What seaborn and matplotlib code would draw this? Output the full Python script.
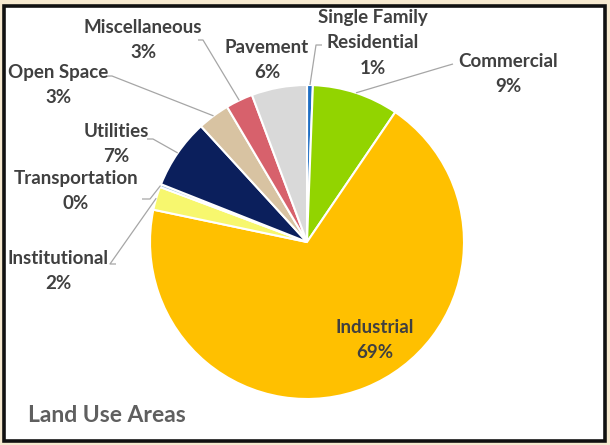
import numpy as np
import matplotlib
matplotlib.use("Agg")
import matplotlib.pyplot as plt
import seaborn as sns
from matplotlib.patches import Rectangle

# chart data (clockwise from 12 o'clock)
categories = ["Single Family\nResidential", "Commercial", "Industrial", "Institutional",
              "Transportation", "Utilities", "Open Space", "Miscellaneous", "Pavement"]
shares = [0.6, 8.9, 68.8, 2.4, 0.3, 7.2, 3.3, 2.8, 5.7]
colors = ["#1f6fc4", "#92d400", "#ffc000", "#f7f76e", "#9dc3e6",
          "#0b1f5c", "#d8c3a2", "#d7616c", "#d9d9d9"]

# layout (pixels in the 610x445 canvas)
W, H = 610, 445
CX, CY, R = 307, 242, 157
label_xy = [(373, 43), (508, 74), (375, 340), (58, 271), (76, 191),
            (116, 144), (58, 85), (143, 40), (267, 60)]
# leader line: (elbow, end next to label) or None
leaders = [((316, 45), (322, 45)), ((446, 66), (453, 64)), None,
           ((110, 264), (116, 264)), ((150, 199), (142, 199)),
           ((153, 139), (147, 139)), ((112, 76), (106, 76)),
           ((203, 40), (198, 40)), None]

sns.set_theme(style="white")
plt.rcParams["font.family"] = ["Lato", "DejaVu Sans"]


def px(x, y):
    return ((x - CX) / R, (CY - y) / R)


fig = plt.figure(figsize=(W / 100, H / 100), dpi=100, facecolor="#f6e9cf")
fig.patches.append(Rectangle((4 / W, 4 / H), (W - 9) / W, (H - 10) / H,
                             transform=fig.transFigure, facecolor="white",
                             edgecolor="#111111", linewidth=2.6, zorder=-10))
ax = fig.add_axes([0, 0, 1, 1])
ax.set_facecolor("none")

wedges, _ = ax.pie(shares, colors=colors, startangle=90, counterclock=False,
                   radius=1, wedgeprops=dict(edgecolor="white", linewidth=1.5))

total = sum(shares)
for w, name, val, pos, lead in zip(wedges, categories, shares, label_xy, leaders):
    pct = f"{round(val / total * 100):.0f}%"
    tx, ty = px(*pos)
    ax.text(tx, ty, f"{name}\n{pct}", ha="center", va="center", fontsize=13.5,
            fontweight="bold", color="#404040", linespacing=1.6)
    if lead is not None:
        mid = np.deg2rad((w.theta1 + w.theta2) / 2)
        ax0, ay0 = np.cos(mid) * 1.0, np.sin(mid) * 1.0
        e = px(*lead[0])
        a = px(*lead[1])
        ax.plot([ax0, e[0], a[0]], [ay0, e[1], a[1]], color="#a6a6a6", lw=0.9,
                solid_capstyle="butt", zorder=1)

ax.text(*px(28, 416), "Land Use Areas", ha="left", va="center", fontsize=16.5,
        fontweight="bold", color="#5f5f5f")

ax.set_xlim(-CX / R, (W - CX) / R)
ax.set_ylim((CY - H) / R, CY / R)
ax.set_aspect("equal")
ax.axis("off")

fig.savefig("out.png", dpi=100, facecolor=fig.get_facecolor())
